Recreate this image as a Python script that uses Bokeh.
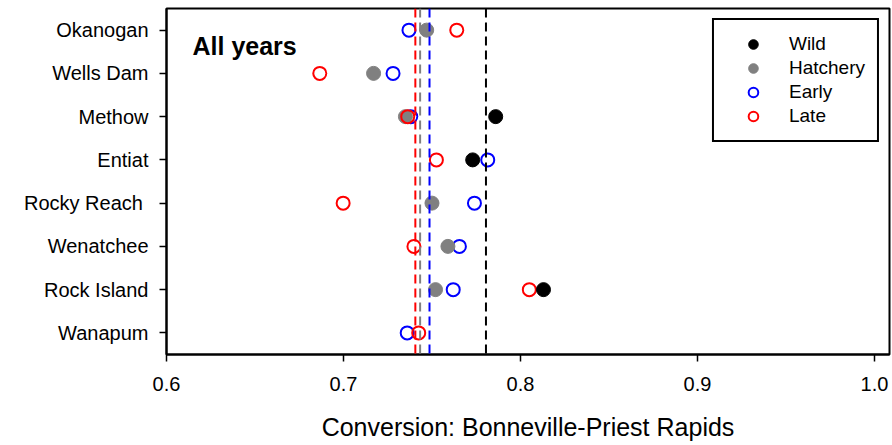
from bokeh.plotting import figure
from bokeh.models import (FactorRange, Range1d, FixedTicker, Span, Label,
                          Legend, LegendItem, ColumnDataSource)
from bokeh.embed import file_html
from bokeh.resources import INLINE

# ---- data (top to bottom on the chart) ----
sites = ["Okanogan", "Wells Dam", "Methow", "Entiat", "Rocky Reach ",
         "Wenatchee", "Rock Island", "Wanapum"]
wild = [None, None, 0.786, 0.773, None, None, 0.813, None]
hatchery = [0.747, 0.717, 0.735, None, 0.750, 0.759, 0.752, None]
early = [0.737, 0.728, 0.738, 0.7815, 0.774, 0.7655, 0.762, 0.736]
late = [0.764, 0.6866, 0.7363, 0.7525, 0.6998, 0.7398, 0.805, 0.7425]

# group means (dashed vertical lines)
mean_wild = 0.7805
mean_hatchery = 0.7433
mean_early = 0.7486
mean_late = 0.7406

x_ticks = [0.6, 0.7, 0.8, 0.9, 1.0]
x_tick_labels = ["0.6", "0.7", "0.8", "0.9", "1.0"]
x_title = "Conversion: Bonneville-Priest Rapids"
panel_label = "All years"

FONT = "Liberation Sans"


def src(vals):
    xs = [v for v in vals if v is not None]
    ys = [s for s, v in zip(sites, vals) if v is not None]
    return ColumnDataSource(dict(x=xs, y=ys))


p = figure(
    width=892, height=445,
    frame_width=723, frame_height=346,
    min_border_left=166, min_border_right=3, min_border_top=8, min_border_bottom=91,
    x_range=Range1d(0.6, 1.0085),
    y_range=FactorRange(factors=list(reversed(sites)), range_padding=0),
    output_backend="svg", toolbar_location=None,
)
p.xgrid.visible = False
p.ygrid.visible = False
p.outline_line_color = "black"
p.outline_line_width = 2
p.background_fill_color = "white"
p.border_fill_color = "white"

# mean lines
for loc, col in [(mean_late, "red"), (mean_hatchery, "gray"),
                 (mean_early, "blue"), (mean_wild, "black")]:
    p.add_layout(Span(location=loc, dimension="height", line_color=col,
                      line_dash="9 5", line_width=2))

r_early = p.scatter("x", "y", source=src(early), size=13, fill_color=None,
                    line_color="blue", line_width=2)
r_hatch = p.scatter("x", "y", source=src(hatchery), size=14, fill_color="#808080",
                    line_color="#808080", line_width=1)
r_late = p.scatter("x", "y", source=src(late), size=13, fill_color=None,
                   line_color="red", line_width=2)
r_wild = p.scatter("x", "y", source=src(wild), size=14, fill_color="black",
                   line_color="black", line_width=1)

# axes
p.xaxis.ticker = FixedTicker(ticks=x_ticks)
p.xaxis.major_label_overrides = {t: l for t, l in zip(x_ticks, x_tick_labels)}
p.xaxis.minor_tick_line_color = None
p.xaxis.major_tick_out = 7
p.xaxis.major_tick_in = 0
p.xaxis.major_label_standoff = 15
p.xaxis.major_label_text_font = FONT
p.xaxis.major_label_text_font_size = "20px"
p.xaxis.major_label_text_color = "black"
p.xaxis.axis_label = x_title
p.xaxis.axis_label_text_font = FONT
p.xaxis.axis_label_text_font_size = "25px"
p.xaxis.axis_label_text_font_style = "normal"
p.xaxis.axis_label_text_color = "black"
p.xaxis.axis_label_standoff = 19

p.yaxis.major_tick_out = 7
p.yaxis.major_tick_in = 0
p.yaxis.major_label_standoff = 11
p.yaxis.major_label_text_font = FONT
p.yaxis.major_label_text_font_size = "20px"
p.yaxis.major_label_text_color = "black"

for ax in (p.xaxis, p.yaxis):
    ax.axis_line_color = "black"
    ax.axis_line_width = 2
    ax.major_tick_line_color = "black"
    ax.major_tick_line_width = 1.5

# panel label
p.add_layout(Label(x=26, y=309, x_units="screen", y_units="screen",
                   text=panel_label, text_font=FONT, text_font_size="25px",
                   text_font_style="bold", text_color="black",
                   text_baseline="alphabetic"))

legend = Legend(items=[
    LegendItem(label="Wild", renderers=[r_wild]),
    LegendItem(label="Hatchery", renderers=[r_hatch]),
    LegendItem(label="Early", renderers=[r_early]),
    LegendItem(label="Late", renderers=[r_late]),
], location="top_right", margin=10, padding=12, spacing=0,
    glyph_width=54, glyph_height=24, label_height=24, label_standoff=9,
    label_text_font=FONT, label_text_font_size="19px", label_text_color="black",
    border_line_color="black", border_line_width=2, border_line_alpha=1.0,
    background_fill_color="white", background_fill_alpha=1.0)
p.add_layout(legend)

open("out.html", "w").write(file_html(p, INLINE))
